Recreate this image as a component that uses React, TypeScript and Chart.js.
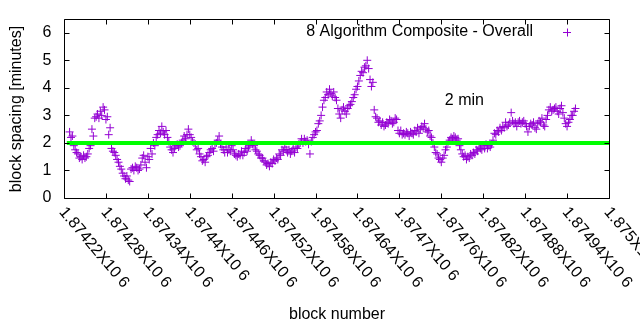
import React, { useEffect, useRef } from "react";
import { Chart, registerables } from "chart.js";

Chart.register(...registerables);

// ---- data ----
const FIRST_BLOCK = 1874228;
const BLOCK_STEP = 2;
const seriesLabel = "8 Algorithm Composite - Overall";
const spacingMinutes = [
  2.4, 2.2, 2.25, 1.9, 1.75, 1.65, 1.6, 1.45, 1.5, 1.4,
  1.55, 1.45, 1.5, 1.6, 1.8, 1.9, 2.5, 2.25, 2.9, 2.95,
  3.05, 2.9, 3.15, 3.0, 3.3, 3.2, 2.85, 2.95, 2.3, 2.55,
  1.8, 1.7, 1.65, 1.55, 1.4, 1.3, 1.15, 1.05, 0.9, 0.8,
  0.7, 0.8, 0.65, 0.6, 1.05, 1.1, 1.0, 1.15, 1.1, 1.0,
  1.05, 1.2, 1.45, 1.55, 1.3, 1.1, 1.5, 1.4, 1.8, 1.6,
  2.0, 1.9, 2.2, 2.3, 2.45, 2.35, 2.6, 2.4, 2.3, 2.45,
  2.2, 2.05, 1.85, 1.75, 1.65, 1.8, 1.9, 1.95, 1.85, 1.9,
  2.0, 2.1, 2.25, 2.15, 2.3, 2.5, 2.3, 2.2, 2.05, 2.0,
  1.95, 1.75, 1.8, 1.6, 1.5, 1.35, 1.4, 1.3, 1.5, 1.55,
  1.65, 1.75, 1.8, 1.7, 1.95, 2.0, 2.1, 2.25, 1.95, 1.85,
  1.75, 1.65, 1.85, 1.65, 1.75, 1.7, 1.9, 1.75, 1.6, 1.55,
  1.5, 1.6, 1.55, 1.7, 1.55, 1.65, 1.8, 1.7, 1.85, 1.9,
  2.1, 1.95, 1.9, 1.75, 1.7, 1.6, 1.55, 1.45, 1.45, 1.35,
  1.3, 1.2, 1.25, 1.15, 1.3, 1.25, 1.4, 1.35, 1.45, 1.4,
  1.6, 1.55, 1.75, 1.7, 1.85, 1.75, 1.65, 1.75, 1.6, 1.7,
  1.8, 1.65, 1.85, 1.8, 1.95, 2.0, 2.15, 2.0, 2.15, 2.05,
  2.1, 1.95, 1.6, 2.05, 2.2, 2.3, 2.4, 2.45, 2.7, 2.8,
  3.0, 3.3, 3.55, 3.65, 3.85, 3.75, 3.95, 3.8, 3.7, 3.85,
  3.65, 3.55, 3.25, 3.05, 2.9, 3.2, 3.3, 3.15, 3.05, 3.25,
  3.35, 3.4, 3.5, 3.65, 3.75, 3.95, 4.05, 4.25, 4.45, 4.6,
  4.55, 4.75, 4.8, 5.0, 4.7, 4.3, 4.05, 4.2, 3.2, 2.95,
  2.9, 2.75, 2.8, 2.65, 2.75, 2.6, 2.65, 2.75, 2.7, 2.85,
  2.8, 2.7, 2.75, 2.9, 2.85, 2.45, 2.35, 2.45, 2.3, 2.35,
  2.3, 2.4, 2.35, 2.25, 2.4, 2.35, 2.3, 2.45, 2.4, 2.55,
  2.35, 2.5, 2.6, 2.55, 2.7, 2.5, 2.4, 2.45, 2.25, 2.2,
  2.0, 1.85, 1.65, 1.6, 1.45, 1.4, 1.3, 1.45, 1.55, 1.75,
  1.85, 2.05, 2.1, 2.2, 2.15, 2.25, 2.2, 2.1, 2.15, 1.9,
  1.75, 1.6, 1.5, 1.55, 1.4, 1.5, 1.45, 1.6, 1.55, 1.65,
  1.6, 1.75, 1.7, 1.85, 1.8, 1.75, 1.9, 1.8, 1.95, 1.8,
  1.9, 1.85, 1.95, 2.1, 2.35, 2.3, 2.45, 2.4, 2.55, 2.45,
  2.6, 2.55, 2.75, 2.6, 2.65, 2.75, 3.1, 2.8, 2.7, 2.75,
  2.6, 2.75, 2.8, 2.7, 2.75, 2.8, 2.7, 2.6, 2.4, 2.6,
  2.7, 2.65, 2.75, 2.55, 2.5, 2.7, 2.8, 2.75, 2.9, 2.65,
  2.6, 2.85, 3.0, 3.2, 3.3, 3.15, 3.2, 3.25, 3.3, 3.15,
  3.05, 3.25, 3.35, 3.1, 2.9, 2.7, 2.6, 2.75, 2.85, 3.0,
  3.0, 3.15, 3.25,
];
const blockNumbers = spacingMinutes.map((_, i) => FIRST_BLOCK + i * BLOCK_STEP);

const targetMinutes = 2;
const targetLineBlocks = [1874224, 1875000];
const targetLabel = "2 min";
const targetLabelPos = { x: 1874793, y: 3.53 };

const xMin = 1874220;
const xMax = 1875000;
const yMin = 0;
const yMax = 6.5;
const xTickValues = [
  1874220, 1874280, 1874340, 1874400, 1874460, 1874520, 1874580,
  1874640, 1874700, 1874760, 1874820, 1874880, 1874940, 1875000,
];
const xTickLabels = [
  "1.87422X10 6", "1.87428X10 6", "1.87434X10 6", "1.8744X10 6",
  "1.87446X10 6", "1.87452X10 6", "1.87458X10 6", "1.87464X10 6",
  "1.8747X10 6", "1.87476X10 6", "1.87482X10 6", "1.87488X10 6",
  "1.87494X10 6", "1.875X10 6",
];
const yTickValues = [0, 1, 2, 3, 4, 5, 6];
const yTickLabels = ["0", "1", "2", "3", "4", "5", "6"];
const xTitle = "block number";
const yTitle = "block spacing [minutes]";

const POINT_COLOR = "#9400d3";
const LINE_COLOR = "#00ff00";
const FONT = '16px "Liberation Sans", Arial, sans-serif';
const X_LABEL_ANGLE = (50 * Math.PI) / 180;

const framePlugin = {
  id: "gnuplotFrame",
  afterDatasetsDraw(chart: any) {
    const { ctx, chartArea } = chart;
    const xs = chart.scales.x;
    const ys = chart.scales.y;
    const L = Math.round(chartArea.left) + 0.5;
    const R = Math.round(chartArea.right) + 0.5;
    const T = Math.round(chartArea.top) + 0.5;
    const B = Math.round(chartArea.bottom) + 0.5;
    const tick = 5;
    ctx.save();
    ctx.strokeStyle = "#000";
    ctx.lineWidth = 1;
    ctx.beginPath();
    ctx.rect(L, T, R - L, B - T);
    xTickValues.forEach((v) => {
      const px = Math.round(xs.getPixelForValue(v)) + 0.5;
      ctx.moveTo(px, B);
      ctx.lineTo(px, B - tick);
      ctx.moveTo(px, T);
      ctx.lineTo(px, T + tick);
    });
    yTickValues.forEach((v) => {
      const py = Math.round(ys.getPixelForValue(v)) + 0.5;
      ctx.moveTo(L, py);
      ctx.lineTo(L + tick, py);
      ctx.moveTo(R, py);
      ctx.lineTo(R - tick, py);
    });
    ctx.stroke();

    ctx.fillStyle = "#000";
    ctx.font = FONT;
    // y tick labels
    ctx.textAlign = "right";
    ctx.textBaseline = "middle";
    yTickValues.forEach((v, i) => {
      ctx.fillText(yTickLabels[i], L - 13, ys.getPixelForValue(v));
    });
    // x tick labels rotated
    xTickValues.forEach((v, i) => {
      const px = xs.getPixelForValue(v);
      ctx.save();
      ctx.translate(px - 2, B + 11);
      ctx.rotate(X_LABEL_ANGLE);
      ctx.textAlign = "left";
      ctx.textBaseline = "middle";
      ctx.fillText(xTickLabels[i], 0, 0);
      ctx.restore();
    });
    // axis titles
    ctx.textAlign = "center";
    ctx.textBaseline = "middle";
    ctx.fillText(xTitle, (L + R) / 2, 315);
    ctx.save();
    ctx.translate(17, (T + B) / 2);
    ctx.rotate(-Math.PI / 2);
    ctx.fillText(yTitle, 0, 0);
    ctx.restore();

    // "2 min" label
    ctx.fillText(
      targetLabel,
      xs.getPixelForValue(targetLabelPos.x),
      ys.getPixelForValue(targetLabelPos.y)
    );

    // legend
    ctx.textAlign = "right";
    ctx.fillText(seriesLabel, 533, 32);
    ctx.strokeStyle = POINT_COLOR;
    ctx.beginPath();
    ctx.moveTo(563, 32.5);
    ctx.lineTo(571, 32.5);
    ctx.moveTo(567.5, 28.5);
    ctx.lineTo(567.5, 36.5);
    ctx.stroke();
    ctx.restore();
  },
};

export default function App() {
  const ref = useRef<HTMLCanvasElement | null>(null);
  useEffect(() => {
    document.body.style.margin = "0";
    if (!ref.current) return;
    const chart = new Chart(ref.current, {
      type: "scatter",
      data: {
        datasets: [
          {
            label: "target",
            type: "line",
            data: targetLineBlocks.map((b) => ({ x: b, y: targetMinutes })),
            borderColor: LINE_COLOR,
            borderWidth: 4,
            pointRadius: 0,
            fill: false,
          },
          {
            label: seriesLabel,
            data: blockNumbers.map((b, i) => ({ x: b, y: spacingMinutes[i] })),
            pointStyle: "cross",
            pointRadius: 4,
            borderColor: POINT_COLOR,
            backgroundColor: POINT_COLOR,
            borderWidth: 1,
          },
        ],
      },
      options: {
        animation: false,
        responsive: false,
        layout: { padding: { left: 64, right: 31, top: 19, bottom: 132 } },
        plugins: {
          legend: { display: false },
          tooltip: { enabled: false },
        },
        scales: {
          x: { type: "linear", min: xMin, max: xMax, display: false },
          y: { type: "linear", min: yMin, max: yMax, display: false },
        },
      },
      plugins: [framePlugin],
    });
    return () => chart.destroy();
  }, []);
  return (
    <canvas
      ref={ref}
      width={640}
      height={330}
      style={{ display: "block", width: 640, height: 330 }}
    />
  );
}
